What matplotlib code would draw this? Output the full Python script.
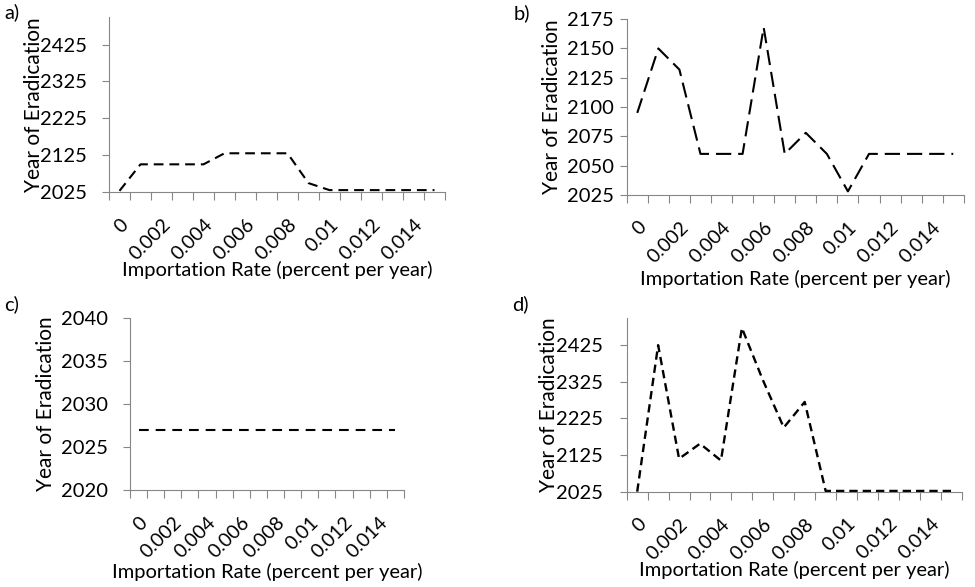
import numpy as np
import matplotlib.pyplot as plt
import matplotlib.transforms as mtransforms

plt.rcParams['font.family'] = ['Lato', 'DejaVu Sans']
plt.rcParams['lines.scale_dashes'] = False

# importation rate categories (percent per year)
rates = ['0', '0.001', '0.002', '0.003', '0.004', '0.005', '0.006', '0.007',
         '0.008', '0.009', '0.01', '0.011', '0.012', '0.013', '0.014', '0.015']

# year of eradication, one value per rate
year_a = [2028, 2100, 2100, 2100, 2100, 2130, 2130, 2130, 2130, 2049, 2030,
          2030, 2030, 2030, 2030, 2030]
year_b = [2095, 2150, 2132, 2060, 2060, 2060, 2168, 2060, 2078, 2060, 2028,
          2060, 2060, 2060, 2060, 2060]
year_c = [2027] * 16
year_d = [2025, 2425, 2115, 2156, 2110, 2472, 2330, 2200, 2270, 2027, 2027,
          2027, 2027, 2027, 2027, 2027]

yticks_a = [2025, 2125, 2225, 2325, 2425]
yticks_b = [2025, 2050, 2075, 2100, 2125, 2150, 2175]
yticks_c = [2020, 2025, 2030, 2035, 2040]
yticks_d = [2025, 2125, 2225, 2325, 2425]

grey = '#868686'

fig = plt.figure(figsize=(9.75, 5.87), dpi=100)


def panel(rect, y, yticks, ylim, dashes, lw, ypad, tag, tagpos, ylab_x, xlab_y):
    ax = fig.add_axes(rect)
    x = np.arange(len(rates))
    ax.plot(x, y, color='black', lw=lw, dashes=dashes)
    ax.set_xlim(-0.5, len(rates) - 0.5)
    ax.set_ylim(*ylim)
    ax.set_yticks(yticks)
    ax.set_yticklabels([str(v) for v in yticks])
    # tick marks on category boundaries, labels on every other category
    ax.set_xticks(np.arange(len(rates) + 1) - 0.5)
    ax.set_xticklabels([])
    ax.set_xticks(x[::2], minor=True)
    ax.set_xticklabels(rates[::2], minor=True, rotation=45, ha='right',
                       va='top', rotation_mode='anchor')
    ax.tick_params(axis='x', which='major', length=6, color=grey, direction='out')
    ax.tick_params(axis='x', which='minor', length=0, pad=17, labelsize=14)
    ax.tick_params(axis='y', length=5, color=grey, pad=ypad, labelsize=14.5)
    for s in ['top', 'right']:
        ax.spines[s].set_visible(False)
    for s in ['left', 'bottom']:
        ax.spines[s].set_color(grey)
    ax.set_xlabel('Importation Rate (percent per year)', fontsize=14.5)
    ax.set_ylabel('Year of Eradication', fontsize=15)
    ax.yaxis.set_label_coords(
        ylab_x, 0.5, transform=mtransforms.blended_transform_factory(
            fig.transFigure, ax.transAxes))
    ax.xaxis.set_label_coords(
        0.5, xlab_y, transform=mtransforms.blended_transform_factory(
            ax.transAxes, fig.transFigure))
    fig.text(tagpos[0], tagpos[1], tag, fontsize=14.5, ha='left', va='top')
    return ax


panel([0.1118, 0.673, 0.3446, 0.298], year_a, yticks_a, (2025, 2500),
      (7, 4.3), 1.5, 11, 'a)', (0.004, 0.995), 44 / 975, 1 - 261 / 587)
panel([0.6428, 0.668, 0.3457, 0.2993], year_b, yticks_b, (2025, 2175),
      (11, 5), 1.5, 4, 'b)', (0.527, 0.993), 562 / 975, 1 - 270 / 587)
panel([0.1333, 0.1652, 0.281, 0.2925], year_c, yticks_c, (2020, 2040),
      (7, 5), 1.5, 11, 'c)', (0.004, 0.497), 56 / 975, 1 - 563 / 587)
panel([0.6428, 0.1624, 0.3436, 0.2964], year_d, yticks_d, (2025, 2500),
      (6, 3.6), 1.7, 12, 'd)', (0.525, 0.497), 559 / 975, 1 - 561 / 587)

fig.savefig('out.png', dpi=100)
